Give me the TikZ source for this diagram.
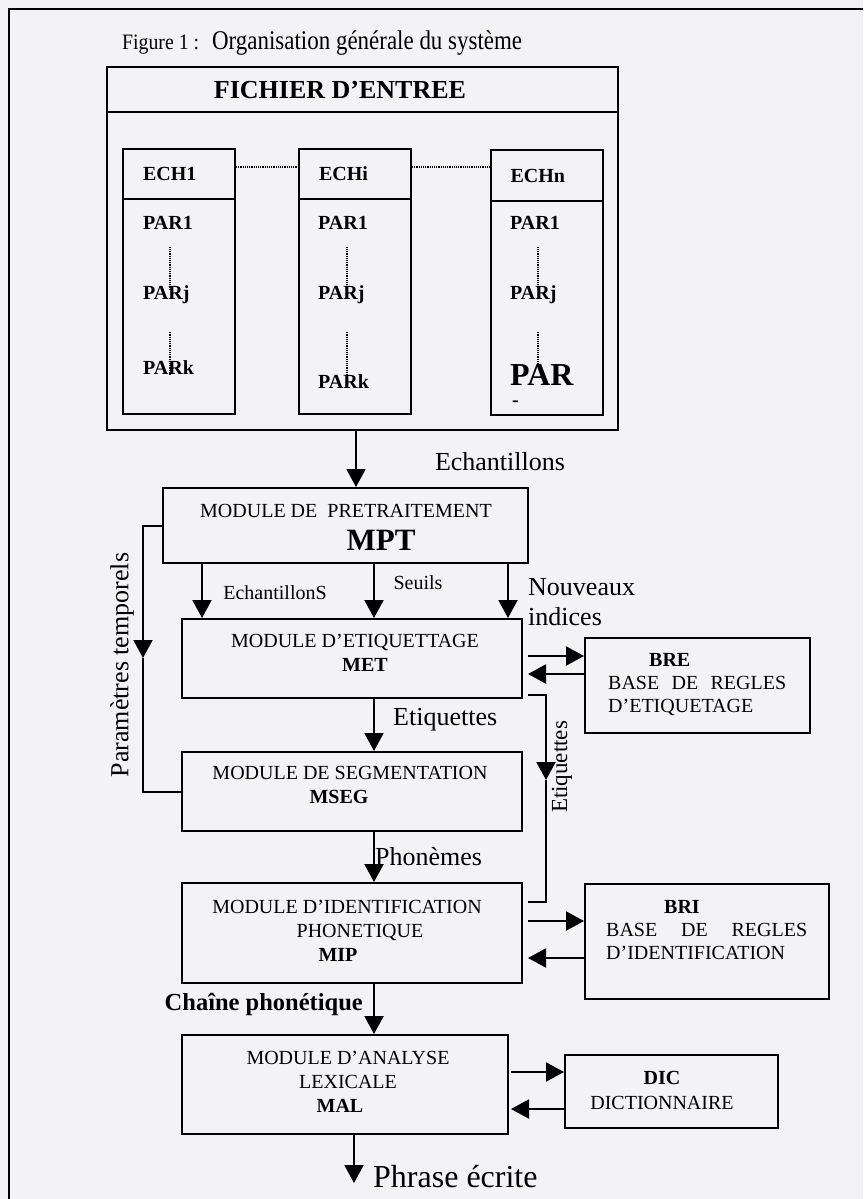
\documentclass[tikz,border=0pt]{standalone}
\usepackage{fontspec}
\setmainfont{Liberation Serif}
\usepackage{tikz}
\usetikzlibrary{arrows.meta}
\definecolor{papier}{RGB}{243,243,246}
\newcommand{\fonte}[2]{\fontsize{#1}{#2}\selectfont}
\tikzset{
    cadre/.style={draw=black, line width=2pt, inner sep=0pt},
    entete/.style={cadre, text width=72pt, inner xsep=20pt, align=left,
        font=\fonte{20}{24}\bfseries},
    champ/.style={anchor=west, inner sep=0pt, font=\fonte{20}{24}\bfseries},
    texte/.style={align=center, inner sep=0pt, font=\fonte{20}{24}},
    legende/.style={inner sep=0pt, font=\fonte{26}{30}},
    petit/.style={inner sep=0pt, font=\fonte{20}{24}},
    fleche/.style={draw=black, line width=2pt, -{Triangle[width=19pt,length=18pt]}},
    trait/.style={draw=black, line width=2pt},
    pointille/.style={draw=black, line width=1.2pt, densely dotted}
}

\begin{document}
\begin{tikzpicture}[x=1pt, y=-1pt]
\useasboundingbox (0,0) rectangle (863,1199);
\fill[papier] (0,0) rectangle (863,1199);
\draw[line width=1.5pt] (9,1199) -- (9,9) -- (863,9);

% titre
\node[anchor=west, inner sep=0pt, font=\fonte{22}{24}, xscale=.9] (fig) at (122,45) {Figure 1 :};
\node[anchor=west, inner sep=0pt, font=\fonte{27}{30}, xscale=.85] (titre) at (212,43) {Organisation générale du système};

% fichier d'entree
\node[cadre, minimum width=511pt, minimum height=45pt, font=\fonte{26}{30}\bfseries]
  (entree) at (362.5,89.5) {FICHIER D’ENTREE\hspace*{45pt}};
\node[cadre, minimum width=511pt, minimum height=318pt] (fichier) at (362.5,271) {};

% premier echantillon
\node[entete, minimum height=50pt] (ech1) at (179,174) {ECH1};
\node[cadre, minimum width=112pt, minimum height=215pt] (ech1b) at (179,306.5) {};
\node[champ] (ech1p1) at (143,223) {PAR1};
\node[champ] (ech1pj) at (143,295) {PARj};
\node[champ] (ech1pk) at (143,368) {PARk};
\draw[style={pointille}, shorten <=17pt, shorten >=-4pt]
  ([xshift=27pt]ech1p1.south west) -- ([xshift=27pt]ech1pj.north west);
\draw[style={pointille}, shorten <=28pt, shorten >=-14pt]
  ([xshift=27pt]ech1pj.south west) -- ([xshift=27pt]ech1pk.north west);

% echantillon i
\node[entete, minimum height=50pt] (echi) at (355,174) {ECHi};
\node[cadre, minimum width=112pt, minimum height=215pt] (echib) at (355,306.5) {};
\node[champ] (echip1) at (318,223) {PAR1};
\node[champ] (echipj) at (318,295) {PARj};
\node[champ] (echipk) at (318,382) {PARk};
\draw[style={pointille}, shorten <=17pt, shorten >=-4pt]
  ([xshift=29pt]echip1.south west) -- ([xshift=29pt]echipj.north west);
\draw[style={pointille}, shorten <=28pt, shorten >=-3pt]
  ([xshift=29pt]echipj.south west) -- ([xshift=29pt]echipk.north west);

% dernier echantillon
\node[entete, minimum height=51pt] (echn) at (546.5,175.5) {ECHn};
\node[cadre, minimum width=112pt, minimum height=214pt] (echnb) at (546.5,308) {};
\node[champ] (echnp1) at (510,223) {PAR1};
\node[champ] (echnpj) at (510,295) {PARj};
\node[champ, font=\fonte{32}{36}\bfseries] (echnpk) at (510,375) {PAR};
\node[champ] (echntiret) at (512,404) {-};
\draw[style={pointille}, shorten <=17pt, shorten >=-4pt]
  ([xshift=28pt]echnp1.south west) -- ([xshift=28pt]echnpj.north west);
\draw[style={pointille}, shorten <=28pt, shorten >=0pt]
  ([xshift=28pt]echnpj.south west) -- ([xshift=28pt]echnpk.north west);

\draw[style={pointille}] ([yshift=7pt]ech1.east) -- ([yshift=7pt]echi.west);
\draw[style={pointille}] ([yshift=7pt]echi.east) -- ([yshift=8.5pt]echn.west);

% modules
\node[cadre, minimum width=365pt, minimum height=75pt] (mpt) at (345.5,525.5) {};
\node[texte] (mpt-t) at (346,527)
  {MODULE DE~~PRETRAITEMENT\\[9pt]\hspace*{70pt}{\fonte{31}{31}\bfseries MPT}};
\node[cadre, minimum width=340pt, minimum height=79pt] (met) at (352,658.5) {};
\node[texte] (met-t) at (355,652.5) {MODULE D’ETIQUETTAGE\\\hspace*{20pt}\textbf{MET}};
\node[cadre, minimum width=340pt, minimum height=79pt] (mseg) at (352,791.5) {};
\node[texte] (mseg-t) at (350,785) {MODULE DE SEGMENTATION\\\textbf{MSEG}\hspace*{22pt}};
\node[cadre, minimum width=340pt, minimum height=100pt] (mip) at (352,933) {};
\node[texte] (mip-t) at (347,931)
  {MODULE D’IDENTIFICATION\\\hspace*{26pt}PHONETIQUE\\\textbf{MIP}\hspace*{18pt}};
\node[cadre, minimum width=326pt, minimum height=99pt] (mal) at (345,1084.5) {};
\node[texte] (mal-t) at (348,1082)
  {MODULE D’ANALYSE\\LEXICALE\hspace*{30pt}\\\textbf{MAL}\hspace*{16pt}};

% bases
\node[cadre, minimum width=225pt, minimum height=95pt] (bre) at (697.5,685.5) {};
\node[texte, anchor=west, align=left, font=\fonte{20}{23}] (bre-t) at (608,685)
  {\hspace*{41pt}\textbf{BRE}\\\makebox[178pt][s]{BASE DE REGLES}\\D’ETIQUETAGE};
\node[cadre, minimum width=244pt, minimum height=115pt] (bri) at (707,941.5) {};
\node[texte, anchor=west, align=left, font=\fonte{20}{23}] (bri-t) at (606,930)
  {\hspace*{58pt}\textbf{BRI}\\\makebox[201pt][s]{BASE DE REGLES}\\D’IDENTIFICATION};
\node[cadre, minimum width=213pt, minimum height=73pt] (dic) at (671.5,1091.5) {};
\node[texte, font=\fonte{20}{25}] (dic-t) at (662,1090.5) {\textbf{DIC}\\DICTIONNAIRE};

% legendes
\node[legende] (l-ech) at (500,462) {Echantillons};
\node[petit] (l-echs) at (275,593) {EchantillonS};
\node[petit] (l-seuils) at (418,583) {Seuils};
\node[legende, anchor=west, align=left] (l-nouv) at (528,602) {Nouveaux\\indices};
\node[legende, anchor=west] (l-etiq) at (393,720) {Etiquettes};
\node[legende, anchor=west] (l-phon) at (375,857) {Phonèmes};
\node[legende, anchor=east, font=\fonte{24.5}{28}\bfseries] (l-chaine) at (363,1004) {Chaîne phonétique};
\node[legende, anchor=west, font=\fonte{32}{36}] (l-phrase) at (373,1177) {Phrase écrite};
\node[legende, rotate=90] (l-param) at (122,665) {Paramètres temporels};
\node[legende, rotate=90, font=\fonte{23}{26}] (l-etiq2) at (562,767) {Etiquettes};

% colonnes des fleches
\coordinate (xa) at (356,0);
\coordinate (xb) at (202,0);
\coordinate (xc) at (374,0);
\coordinate (xd) at (508,0);
\coordinate (xe) at (354,0);
\coordinate (fin) at (354,1183);
\coordinate (param) at (143,658);
\coordinate (etiq) at (546,780);

\draw[style={fleche}] (fichier.south -| xa) -- (mpt.north -| xa);
\draw[style={fleche}] (mpt.south -| xb) -- (met.north -| xb);
\draw[style={fleche}] (mpt.south -| xc) -- (met.north -| xc);
\draw[style={fleche}] (mpt.south -| xd) -- (met.north -| xd);
\draw[style={fleche}] (met.south -| xc) -- (mseg.north -| xc);
\draw[style={fleche}] (mseg.south -| xc) -- (mip.north -| xc);
\draw[style={fleche}] (mip.south -| xc) -- (mal.north -| xc);
\draw[style={fleche}] (mal.south -| xe) -- (fin);

% parametres temporels
\draw[style={fleche}] (mpt.west) -| (param);
\draw[style={trait}] (param) |- (mseg.west);

% etiquettes vers MIP
\draw[style={fleche}, shorten <=5pt] ([yshift=4pt]met.south east) -| (etiq);
\draw[style={trait}, shorten >=5pt] (etiq) |- ([yshift=-20pt]mip.north east);

% echanges avec les bases
\coordinate (bre-a) at ([yshift=-19pt]bre.north west);
\coordinate (bre-b) at ([yshift=-37pt]bre.north west);
\draw[style={fleche}, shorten <=5pt] (met.east |- bre-a) -- (bre-a);
\draw[style={fleche}, shorten >=5pt] (bre-b) -- (met.east |- bre-b);
\coordinate (bri-a) at ([yshift=-38pt]bri.north west);
\coordinate (bri-b) at ([yshift=-75pt]bri.north west);
\draw[style={fleche}, shorten <=5pt] (mip.east |- bri-a) -- (bri-a);
\draw[style={fleche}, shorten >=5pt] (bri-b) -- (mip.east |- bri-b);
\coordinate (dic-a) at ([yshift=-18pt]dic.north west);
\coordinate (dic-b) at ([yshift=-55pt]dic.north west);
\draw[style={fleche}, shorten <=2pt] (mal.east |- dic-a) -- (dic-a);
\draw[style={fleche}, shorten >=2pt] (dic-b) -- (mal.east |- dic-b);
\end{tikzpicture}
\end{document}
